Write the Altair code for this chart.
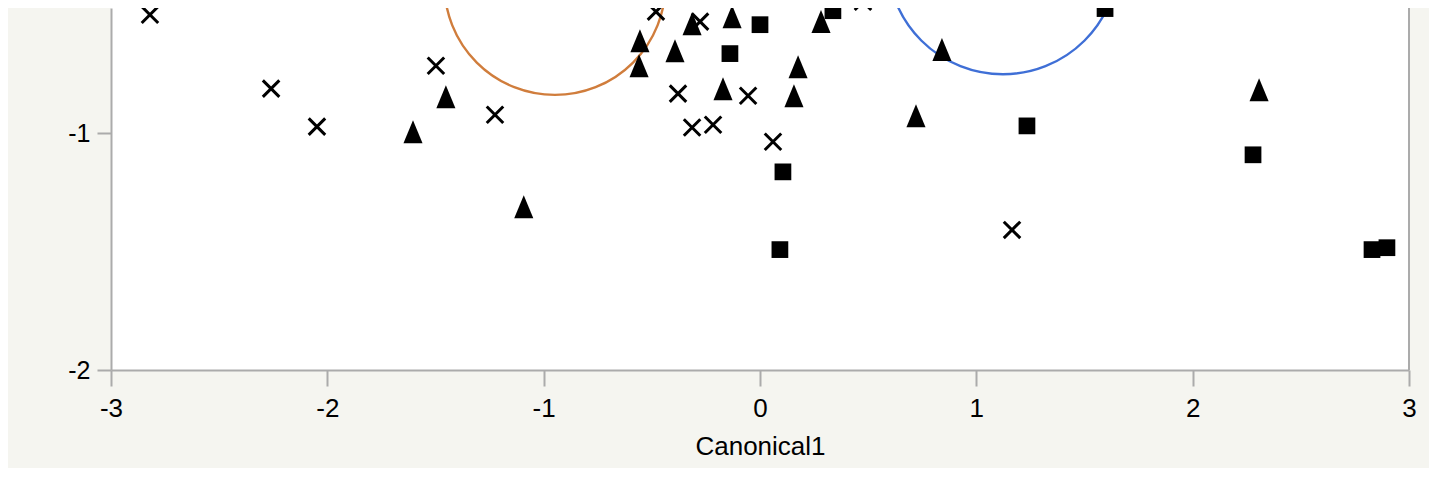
import altair as alt
import pandas as pd

# --- data ---
cross_x = [-2.820, -2.260, -2.048, -1.498, -1.225, -0.481, -0.277, -0.379, -0.314, -0.217, -0.055, 0.060, 0.476, 1.165]
cross_y = [-0.501, -0.813, -0.973, -0.716, -0.923, -0.488, -0.530, -0.834, -0.977, -0.965, -0.843, -1.037, -0.446, -1.409]

tri_x = [-1.604, -1.452, -1.092, -0.555, -0.559, -0.393, -0.314, -0.129, -0.171, 0.176, 0.157, 0.282, 0.841, 0.721, 1.858, 2.307]
tri_y = [-0.995, -0.847, -1.311, -0.611, -0.716, -0.653, -0.539, -0.509, -0.813, -0.720, -0.843, -0.530, -0.648, -0.927, -0.419, -0.817]

sq_x = [0.000, -0.139, 0.337, 0.624, 1.595, 0.106, 0.092, 1.234, 2.279, 2.829, 2.898]
sq_y = [-0.543, -0.665, -0.484, -0.431, -0.475, -1.164, -1.492, -0.970, -1.092, -1.492, -1.484]

circ_x = [-0.948, 1.123]
circ_y = [-0.373, -0.265]
circ_d = [221, 231]
circ_color = ["#D07D3C", "#3F6FD6"]

x_ticks = [-3, -2, -1, 0, 1, 2, 3]
y_ticks = [-2, -1]

W, H = 1298, 362
Y_TOP = -2 + H / 237.0
FONT = "Liberation Sans"
AXC = "#ABABAB"

xs = alt.Scale(domain=[-3, 3], nice=False, zero=False)
ys = alt.Scale(domain=[-2, Y_TOP], nice=False, zero=False)

xax = alt.Axis(values=x_ticks, title="Canonical1", grid=False, labelExpr="'' + datum.value",
               tickSize=16, labelPadding=9, labelFlush=False, titleY=84, titleBaseline="alphabetic",
               labelFont=FONT, labelFontSize=26, titleFont=FONT, titleFontSize=26)
yax = alt.Axis(values=y_ticks, title=None, grid=False, labelExpr="'' + datum.value",
               tickSize=14, labelPadding=7, labelFlush=False, labelFont=FONT, labelFontSize=25)

base_x = alt.X("x:Q", scale=xs, axis=xax)
base_y = alt.Y("y:Q", scale=ys, axis=yax)

df_c = pd.DataFrame({"x": cross_x, "y": cross_y})
df_t = pd.DataFrame({"x": tri_x, "y": tri_y})
df_s = pd.DataFrame({"x": sq_x, "y": sq_y})
df_r = pd.DataFrame({"x": circ_x, "y": circ_y, "d2": [d * d for d in circ_d], "c": circ_color})

crosses = alt.Chart(df_c).mark_point(
    shape="M-1,-1L1,1M1,-1L-1,1", filled=False, size=272, strokeWidth=3,
    color="black", opacity=1, clip=True
).encode(x=base_x, y=base_y)

tris = alt.Chart(df_t).mark_point(
    shape="M0,-1L-0.83,1L0.83,1Z", filled=True, size=529, color="black",
    opacity=1, strokeWidth=0, clip=True
).encode(x=base_x, y=base_y)

squares = alt.Chart(df_s).mark_point(
    shape="square", filled=True, size=280, color="black", opacity=1, strokeWidth=0, clip=True
).encode(x=base_x, y=base_y)

rings = alt.Chart(df_r).mark_point(
    shape="circle", filled=False, strokeWidth=2.4, opacity=1, clip=True
).encode(
    x=base_x, y=base_y,
    size=alt.Size("d2:Q", scale=None, legend=None),
    color=alt.Color("c:N", scale=None, legend=None),
)

border = alt.Chart(pd.DataFrame({"v": [3]})).mark_rule(color=AXC, strokeWidth=2).encode(
    x=alt.datum(3), y=alt.value(0), y2=alt.value(H)
)

chart = alt.layer(rings, crosses, tris, squares, border).properties(
    width=W, height=H,
    autosize=alt.AutoSizeParams(type="none"),
    padding={"left": 103, "top": 0, "right": 20, "bottom": 98},
    background="#F5F5F0",
).configure_view(fill="white", stroke=None).configure_axis(
    domainColor=AXC, domainWidth=2, tickColor=AXC, tickWidth=2,
    labelColor="black", titleColor="black", titleFontWeight="normal",
)

chart.save("out.html", embed_options={"renderer": "svg", "actions": False})
